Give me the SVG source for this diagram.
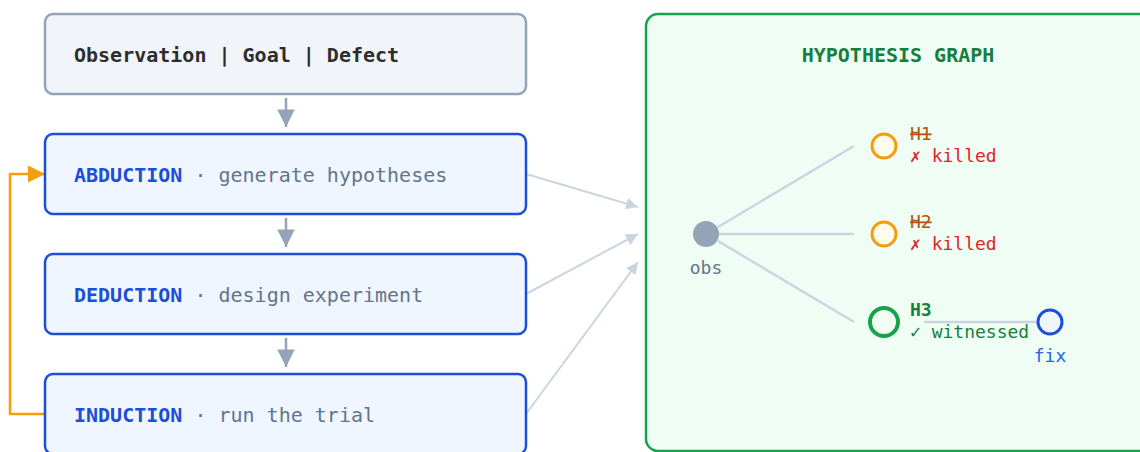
<svg xmlns="http://www.w3.org/2000/svg" width="1140" height="452" viewBox="0 0 1140 452">
  <style>
    .mono { font-family: "DejaVu Sans Mono", "Liberation Mono", monospace; }
    .step { fill: #eff6ff; stroke: #1d4ed8; stroke-width: 2.5; }
    .kw { font-weight: bold; fill: #1d4ed8; font-size: 20px; }
    .desc { fill: #64748b; font-size: 20px; }
    .flow { stroke: #94a3b8; stroke-width: 2.5; fill: none; }
    .feed { stroke: #cbd5e1; stroke-width: 2; fill: none; }
    .edge { stroke: #cbd5e1; stroke-width: 2.5; fill: none; }
    .lbl { font-size: 18px; }
  </style>
  <defs>
    <marker id="arrowFlow" viewBox="0 0 10 10" refX="10" refY="5" markerWidth="7.2" markerHeight="7" markerUnits="strokeWidth" orient="auto">
      <path d="M0,0 L10,5 L0,10 z" fill="#94a3b8"/>
    </marker>
    <marker id="arrowFeed" viewBox="0 0 10 10" refX="10" refY="5" markerWidth="6" markerHeight="6" markerUnits="strokeWidth" orient="auto">
      <path d="M0,0 L10,5 L0,10 z" fill="#cbd5e1"/>
    </marker>
    <marker id="arrowLoop" viewBox="0 0 10 10" refX="10" refY="5" markerWidth="6.8" markerHeight="6.8" markerUnits="strokeWidth" orient="auto">
      <path d="M0,0 L10,5 L0,10 z" fill="#f59e0b"/>
    </marker>
  </defs>

  <!-- hypothesis graph panel -->
  <g id="panel">
    <rect x="646" y="14" width="520" height="437" rx="12" fill="#f0fdf4" stroke="#16a34a" stroke-width="2.5"/>
    <text x="898" y="62" text-anchor="middle" class="mono" font-size="20" font-weight="bold" fill="#15803d">HYPOTHESIS GRAPH</text>
  </g>

  <!-- connectors -->
  <g id="connectors">
    <line x1="286" y1="98" x2="286" y2="127" class="flow" marker-end="url(#arrowFlow)"/>
    <line x1="286" y1="218" x2="286" y2="247" class="flow" marker-end="url(#arrowFlow)"/>
    <line x1="286" y1="338" x2="286" y2="367" class="flow" marker-end="url(#arrowFlow)"/>
    <polyline points="45,414 10,414 10,174 45,174" stroke="#f59e0b" stroke-width="2.5" fill="none" marker-end="url(#arrowLoop)"/>
    <line x1="526" y1="174" x2="638" y2="207" class="feed" marker-end="url(#arrowFeed)"/>
    <line x1="526" y1="294" x2="638" y2="234" class="feed" marker-end="url(#arrowFeed)"/>
    <line x1="526" y1="414" x2="638" y2="262" class="feed" marker-end="url(#arrowFeed)"/>
    <line x1="718" y1="227" x2="854" y2="146" class="edge"/>
    <line x1="719" y1="234" x2="854" y2="234" class="edge"/>
    <line x1="718" y1="241" x2="854" y2="322" class="edge"/>
    <line x1="924" y1="322" x2="1037" y2="322" class="edge"/>
  </g>

  <!-- left column -->
  <g id="input">
    <rect x="45" y="14" width="481" height="80" rx="8" fill="#f1f5f9" stroke="#94a3b8" stroke-width="2.5"/>
    <text x="74" y="62" class="mono" font-size="20" font-weight="bold" fill="#2d2d2d">Observation | Goal | Defect</text>
  </g>
  <g id="abduction">
    <rect x="45" y="134" width="481" height="80" rx="8" class="step"/>
    <text x="74" y="182" class="mono"><tspan class="kw">ABDUCTION</tspan><tspan class="desc"> · generate hypotheses</tspan></text>
  </g>
  <g id="deduction">
    <rect x="45" y="254" width="481" height="80" rx="8" class="step"/>
    <text x="74" y="302" class="mono"><tspan class="kw">DEDUCTION</tspan><tspan class="desc"> · design experiment</tspan></text>
  </g>
  <g id="induction">
    <rect x="45" y="374" width="481" height="80" rx="8" class="step"/>
    <text x="74" y="422" class="mono"><tspan class="kw">INDUCTION</tspan><tspan class="desc"> · run the trial</tspan></text>
  </g>

  <!-- graph nodes -->
  <g id="obs">
    <circle cx="706" cy="234" r="13" fill="#94a3b8"/>
    <text x="706" y="274" text-anchor="middle" class="mono lbl" fill="#64748b">obs</text>
  </g>
  <g id="h1">
    <circle cx="884" cy="146" r="12" fill="#fffbeb" stroke="#f59e0b" stroke-width="3"/>
    <text x="910" y="140" class="mono lbl" fill="#b45309" text-decoration="line-through">H1</text>
    <text x="910" y="162" class="mono lbl" fill="#dc2626">✗ killed</text>
  </g>
  <g id="h2">
    <circle cx="884" cy="234" r="12" fill="#fffbeb" stroke="#f59e0b" stroke-width="3"/>
    <text x="910" y="228" class="mono lbl" fill="#b45309" text-decoration="line-through">H2</text>
    <text x="910" y="250" class="mono lbl" fill="#dc2626">✗ killed</text>
  </g>
  <g id="h3">
    <circle cx="884" cy="322" r="14" fill="#f0fdf4" stroke="#16a34a" stroke-width="4"/>
    <text x="910" y="316" class="mono lbl" font-weight="bold" fill="#15803d">H3</text>
    <text x="910" y="338" class="mono lbl" fill="#15803d">✓ witnessed</text>
  </g>
  <g id="fix">
    <circle cx="1050" cy="322" r="12" fill="#eff6ff" stroke="#1d4ed8" stroke-width="3"/>
    <text x="1050" y="362" text-anchor="middle" class="mono lbl" fill="#2563eb">fix</text>
  </g>
</svg>
